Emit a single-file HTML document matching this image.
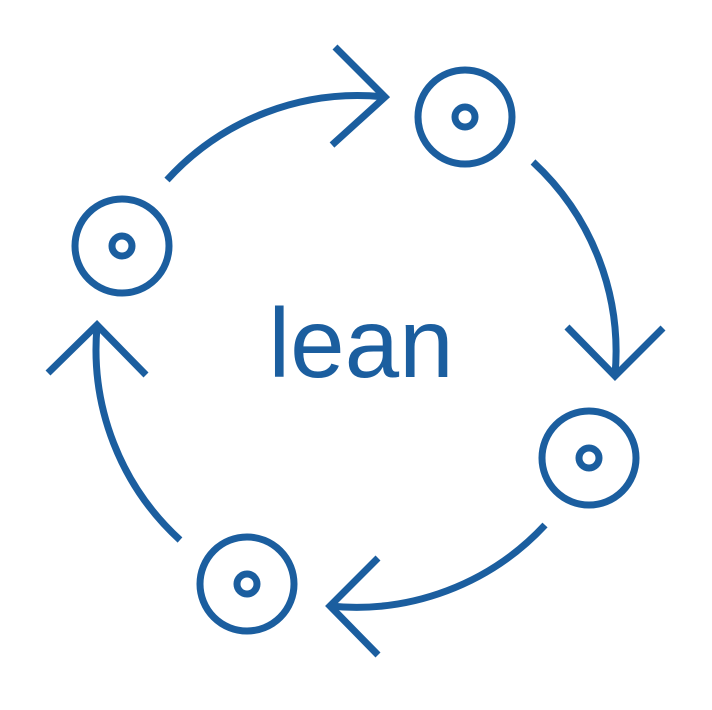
<!DOCTYPE html>
<html><head><meta charset="utf-8"><style>
html,body{margin:0;padding:0;background:#fff;}
</style></head><body>
<svg width="712" height="705" viewBox="0 0 712 705" xmlns="http://www.w3.org/2000/svg">
<g fill="none" stroke="#1b5e9f" stroke-width="7" stroke-linecap="butt">
<circle cx="465" cy="117" r="47"/><circle cx="465" cy="117" r="10"/>
<circle cx="122" cy="246" r="47"/><circle cx="122" cy="246" r="10"/>
<circle cx="589" cy="458" r="47"/><circle cx="589" cy="458" r="10"/>
<circle cx="247" cy="584" r="47"/><circle cx="247" cy="584" r="10"/>
<path d="M167 180 A258 258 0 0 1 385 97"/>
<path d="M335 47 L385 97 L332 145"/>
<path d="M533 162 A258 258 0 0 1 615 375"/>
<path d="M567 327 L615 376 L663 328"/>
<path d="M545 525 A258 258 0 0 1 330 606"/>
<path d="M378 558 L330 606 L378 655"/>
<path d="M180 540 A258 258 0 0 1 97 327"/>
<path d="M48 373 L97 325 L146 375"/>
</g>
<text x="361" y="377" text-anchor="middle" font-family="Liberation Sans, sans-serif" font-size="98" fill="#1b5e9f" font-weight="300">lean</text>
</svg>
</body></html>
